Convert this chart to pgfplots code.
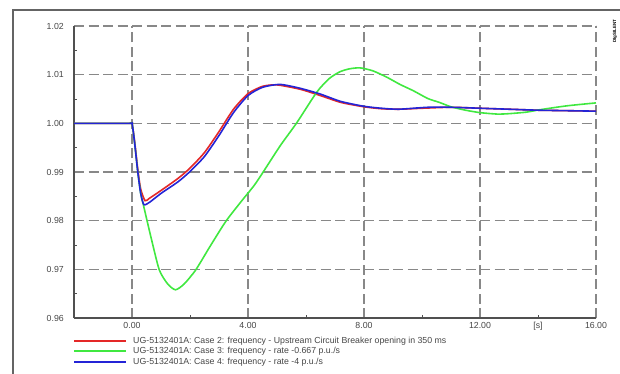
\documentclass[border=0pt]{standalone}
\usepackage{fontspec}
\setmainfont{Liberation Sans}
\usepackage{pgfplots}
\pgfplotsset{compat=1.18}
\definecolor{cred}{RGB}{228,40,40}
\definecolor{cgreen}{RGB}{64,232,64}
\definecolor{cblue}{RGB}{36,36,214}
\definecolor{gridgray}{RGB}{136,136,136}
\definecolor{axgray}{RGB}{80,80,80}
\definecolor{txtgray}{RGB}{70,70,70}
\definecolor{framegray}{RGB}{100,100,100}
\begin{document}
\begin{tikzpicture}
\path[use as bounding box] (-74bp,-56bp) rectangle (546bp,318bp);
\begin{axis}[
  at={(0,0)}, anchor=south west,
  scale only axis, width=522bp, height=292bp,
  xmin=-2, xmax=16, ymin=0.96, ymax=1.02,
  axis lines=left,
  axis line style={-, axgray, line width=1.3bp},
  xtick={0,4,8,12,16},
  xticklabels={0.00,4.00,8.00,12.00,16.00},
  extra x ticks={14},
  extra x tick labels={{[s]}},
  extra x tick style={grid=none, major tick length=0pt},
  ytick={0.96,0.97,0.98,0.99,1.00,1.01,1.02},
  minor x tick num=1, minor y tick num=1,
  tick align=inside, major tick length=0pt, minor tick length=3bp,
  tick style={axgray, line width=0.8bp},
  grid=major,
  major grid style={gridgray, line width=1.2bp, dash pattern=on 10bp off 4.5bp},
  /pgf/number format/assume math mode=true,
  y tick label style={/pgf/number format/fixed, /pgf/number format/fixed zerofill, /pgf/number format/precision=2},
  tick label style={font=\fontsize{8.8}{10}\selectfont, text=txtgray, inner sep=0pt},
  xticklabel style={yshift=-3.5bp, text height=6.4bp, text depth=0pt},
  yticklabel style={xshift=-10bp},
  legend style={at={(rel axis cs:0,0)}, anchor=north west, xshift=-1bp, yshift=-18.5bp,
    draw=none, fill=none, inner sep=0pt, row sep=3bp, column sep=6bp,
    nodes={inner sep=0pt, font=\fontsize{8.8}{10}\selectfont, text=txtgray}},
  legend cell align=left,
  legend image code/.code={\draw[#1, line width=2bp] (0bp,0bp) -- (52bp,0bp);},
]
\addplot[cred, line width=1.6bp, smooth, tension=0.4] coordinates {
(-2,1.0) (-0.1,1.0) (0,1.0) (0.1,0.9958) (0.2,0.9905) (0.3,0.9865) (0.45,0.9841) (0.6,0.9846)
(1.0,0.9862) (1.59,0.9887) (2.0,0.9908) (2.5,0.9940) (3.0,0.9983) (3.5,1.0029)
(4.0,1.0061) (4.5,1.0076) (5.0,1.0079) (5.8,1.0070)
(6.5,1.0057) (7.2,1.0043) (8.0,1.0034) (8.6,1.0030) (9.2,1.0029) (10.0,1.0031)
(11.0,1.0033) (12.0,1.0031) (13.0,1.0029) (14.0,1.0027) (15.0,1.0026) (16.0,1.0025)
};
\addlegendentry{UG-5132401A: Case 2: frequency - Upstream Circuit Breaker opening in 350 ms}
\addplot[cgreen, line width=1.6bp, smooth, tension=0.4] coordinates {
(-2,1.0) (-0.1,1.0) (0,1.0) (0.09,0.996) (0.2,0.990) (0.3,0.9856) (0.39,0.9833) (0.65,0.9767)
(0.94,0.9699) (1.23,0.9670) (1.5,0.9658) (1.8,0.9670) (2.2,0.9699) (2.7,0.9748)
(3.24,0.9799) (3.8,0.9842) (4.28,0.9878) (5.1,0.9953) (5.68,1.0001) (6.37,1.0064)
(6.8,1.0092) (7.17,1.0106) (7.5,1.0112) (7.86,1.0114) (8.3,1.0108) (8.78,1.0095)
(9.24,1.0080) (9.7,1.0067) (10.2,1.0051) (10.6,1.0043) (11.0,1.0034) (11.5,1.0027)
(12.0,1.0022) (12.6,1.0019) (13.03,1.0020) (13.6,1.0023) (14.07,1.0028) (15.0,1.0036)
(16.0,1.0042)
};
\addlegendentry{UG-5132401A: Case 3: frequency - rate -0.667 p.u./s}
\addplot[cblue, line width=1.6bp, smooth, tension=0.4] coordinates {
(-2,1.0) (-0.1,1.0) (0,1.0) (0.09,0.996) (0.2,0.990) (0.3,0.9856) (0.41,0.9833) (0.61,0.9838)
(1.0,0.9856) (1.59,0.9880) (2.0,0.9901) (2.5,0.9932) (3.0,0.9975) (3.5,1.0022)
(4.0,1.0057) (4.5,1.0074) (5.1,1.0080) (5.8,1.0072)
(6.5,1.0060) (7.2,1.0045) (8.0,1.0035) (8.6,1.0031) (9.2,1.0029) (10.2,1.0033)
(11.0,1.0033) (12.0,1.0031) (13.0,1.0029) (14.0,1.0027) (15.0,1.0026) (16.0,1.0025)
};
\addlegendentry{UG-5132401A: Case 4: frequency - rate -4 p.u./s}
\end{axis}
\draw[framegray, line width=2bp] (-61bp,-60bp) -- (-61bp,308bp) -- (560bp,308bp);
\node[rotate=90, font=\fontsize{4.5}{5}\selectfont\bfseries, text=black, inner sep=0pt] at (541bp,287bp) {DIgSILENT};
\end{tikzpicture}
\end{document}
